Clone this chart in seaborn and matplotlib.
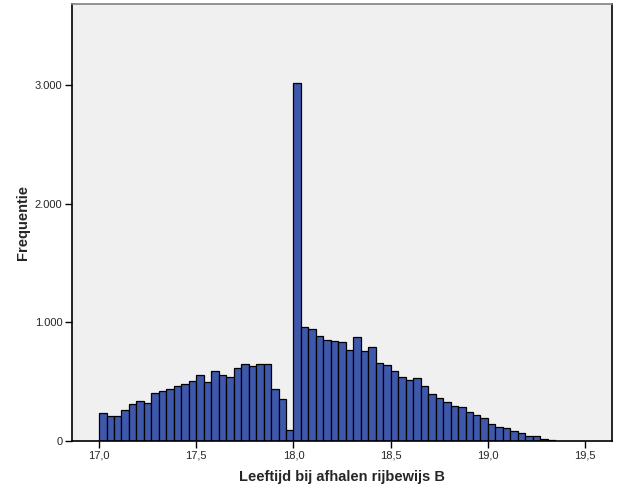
import numpy as np
import pandas as pd
import matplotlib
matplotlib.use("Agg")
import matplotlib.pyplot as plt
import seaborn as sns
from matplotlib.ticker import FuncFormatter

# Histogram data: bins of 1/26 year starting at 17.0
bin_start = 17.0
bin_width = 1.0 / 26
counts_before_18 = [239, 211, 211, 264, 315, 334, 323, 404, 421, 441, 463, 478, 506,
                    559, 494, 590, 559, 542, 612, 652, 635, 652, 652, 438, 351, 90]
counts_after_18 = [3020, 958, 947, 885, 848, 846, 831, 764, 876, 761, 792, 654, 638,
                   587, 539, 514, 528, 461, 398, 360, 326, 295, 287, 244, 216, 191,
                   140, 115, 112, 87, 67, 42, 39, 20, 8]
counts = counts_before_18 + counts_after_18
n_bins = len(counts)
bin_end = bin_start + bin_width * n_bins
centers = bin_start + bin_width * (np.arange(n_bins) + 0.5)
df = pd.DataFrame({"leeftijd": centers, "n": counts})

x_ticks = [17.0, 17.5, 18.0, 18.5, 19.0, 19.5]
y_ticks = [0, 1000, 2000, 3000]

sns.set_style("white")
plt.rcParams["font.family"] = ["Liberation Sans", "DejaVu Sans"]

fig = plt.figure(figsize=(6.26, 5.01), dpi=100)
ax = fig.add_axes([72 / 626, 60 / 501, 540 / 626, 437 / 501])
ax.set_facecolor("#F0F0F0")

sns.histplot(data=df, x="leeftijd", weights="n", bins=n_bins,
             binrange=(bin_start, bin_end), ax=ax,
             color="#3E58AC", alpha=1.0, edgecolor="black", linewidth=0.9)

ax.set_xlim(16.861, 19.638)
ax.set_ylim(0, 3683)
ax.set_xticks(x_ticks)
ax.set_yticks(y_ticks)
ax.xaxis.set_major_formatter(FuncFormatter(lambda v, p: f"{v:.1f}".replace(".", ",")))
ax.yaxis.set_major_formatter(FuncFormatter(lambda v, p: f"{int(v):,}".replace(",", ".")))
ax.tick_params(axis="both", direction="out", length=5, width=1, color="black",
               labelsize=8, pad=2, bottom=True, left=True)
ax.set_xlabel("Leeftijd bij afhalen rijbewijs B", fontsize=10.5, fontweight="bold", labelpad=7)
ax.set_ylabel("Frequentie", fontsize=10.5, fontweight="bold", labelpad=3)

for side in ["left", "bottom", "right"]:
    ax.spines[side].set_color("black")
    ax.spines[side].set_linewidth(1.2)
ax.spines["top"].set_color("#808080")
ax.spines["top"].set_linewidth(1.2)

fig.savefig("out.png", dpi=100, facecolor="white")
